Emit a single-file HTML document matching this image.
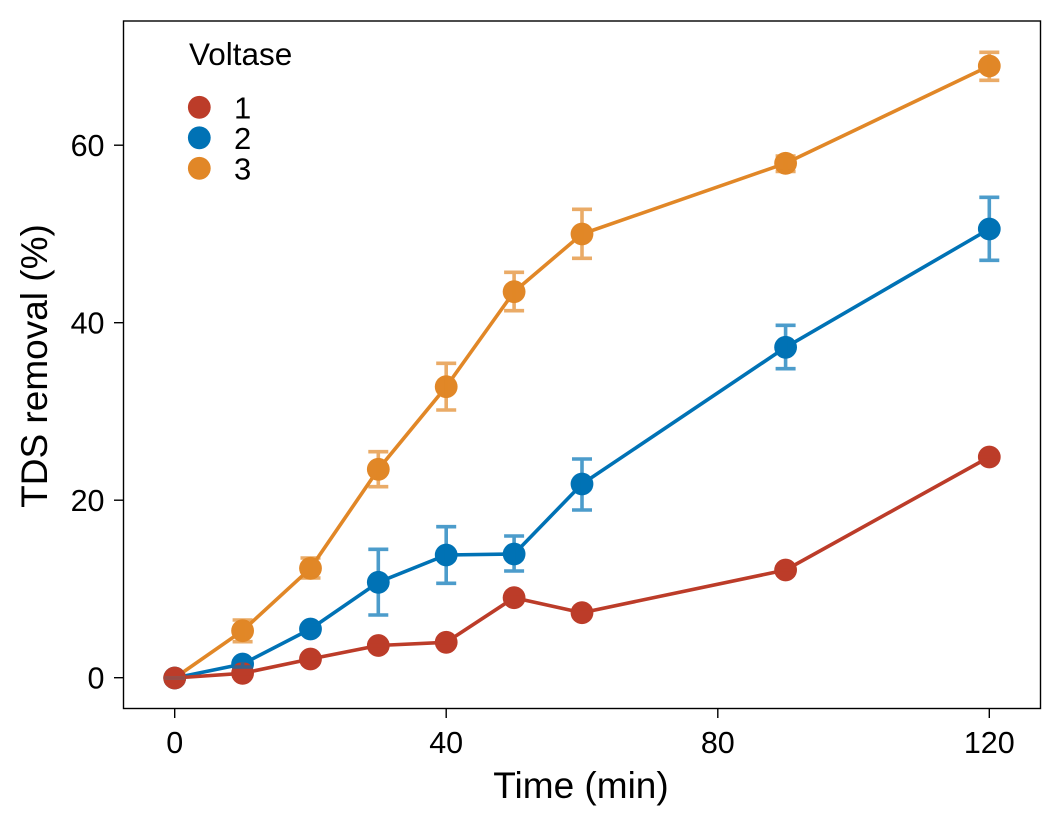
<!DOCTYPE html>
<html><head><meta charset="utf-8"><style>
html,body{margin:0;padding:0;background:#fff;}
svg{display:block;}
text{font-family:"Liberation Sans",Arial,sans-serif;fill:#000;}
</style></head><body>
<svg width="1062" height="826" viewBox="0 0 1062 826" xmlns="http://www.w3.org/2000/svg">
<rect x="0" y="0" width="1062" height="826" fill="#fff"/>

<!-- series lines -->
<g fill="none" stroke-width="3.6" stroke-linejoin="round" stroke-linecap="butt">
<polyline stroke="#E18727" points="174.7,678 242.6,630.7 310.5,568.3 378.3,469.3 446.2,386.7 514.1,291.7 582,234 785.6,163.3 989.3,66"/>
<polyline stroke="#0072B5" points="174.7,678 242.6,664 310.5,629 378.3,582.3 446.2,555 514.1,554 582,484 785.6,347.3 989.3,229"/>
<polyline stroke="#BC3C29" points="174.7,678 242.6,673.3 310.5,659 378.3,645.5 446.2,642.3 514.1,597.7 582,612.7 785.6,570 989.3,457"/>
</g>

<!-- points -->
<g fill="#E18727">
<circle cx="174.7" cy="678" r="11.4"/><circle cx="242.6" cy="630.7" r="11.4"/><circle cx="310.5" cy="568.3" r="11.4"/><circle cx="378.3" cy="469.3" r="11.4"/><circle cx="446.2" cy="386.7" r="11.4"/><circle cx="514.1" cy="291.7" r="11.4"/><circle cx="582" cy="234" r="11.4"/><circle cx="785.6" cy="163.3" r="11.4"/><circle cx="989.3" cy="66" r="11.4"/>
</g>
<g fill="#0072B5">
<circle cx="174.7" cy="678" r="11.4"/><circle cx="242.6" cy="664" r="11.4"/><circle cx="310.5" cy="629" r="11.4"/><circle cx="378.3" cy="582.3" r="11.4"/><circle cx="446.2" cy="555" r="11.4"/><circle cx="514.1" cy="554" r="11.4"/><circle cx="582" cy="484" r="11.4"/><circle cx="785.6" cy="347.3" r="11.4"/><circle cx="989.3" cy="229" r="11.4"/>
</g>
<g fill="#BC3C29">
<circle cx="174.7" cy="678" r="11.4"/><circle cx="242.6" cy="673.3" r="11.4"/><circle cx="310.5" cy="659" r="11.4"/><circle cx="378.3" cy="645.5" r="11.4"/><circle cx="446.2" cy="642.3" r="11.4"/><circle cx="514.1" cy="597.7" r="11.4"/><circle cx="582" cy="612.7" r="11.4"/><circle cx="785.6" cy="570" r="11.4"/><circle cx="989.3" cy="457" r="11.4"/>
</g>

<!-- error bars -->
<g fill="none" stroke-width="3.6" stroke="#E18727" stroke-opacity="0.7">
<path d="M164.7,678H184.7"/>
<path d="M242.6,620V641.7M232.6,620H252.6M232.6,641.7H252.6"/>
<path d="M310.5,558V578M300.5,558H320.5M300.5,578H320.5"/>
<path d="M378.3,451.7V486.7M368.3,451.7H388.3M368.3,486.7H388.3"/>
<path d="M446.2,363.3V410M436.2,363.3H456.2M436.2,410H456.2"/>
<path d="M514.1,272.3V310.7M504.1,272.3H524.1M504.1,310.7H524.1"/>
<path d="M582,209.3V258.3M572,209.3H592M572,258.3H592"/>
<path d="M785.6,156V171.5M775.6,156H795.6M775.6,171.5H795.6"/>
<path d="M989.3,52.3V80.3M979.3,52.3H999.3M979.3,80.3H999.3"/>
</g>
<g fill="none" stroke-width="3.6" stroke="#0072B5" stroke-opacity="0.7">
<path d="M164.7,678H184.7"/>
<path d="M242.6,661V667M232.6,661H252.6M232.6,667H252.6"/>
<path d="M310.5,625V633M300.5,625H320.5M300.5,633H320.5"/>
<path d="M378.3,549.3V615M368.3,549.3H388.3M368.3,615H388.3"/>
<path d="M446.2,526.7V583.3M436.2,526.7H456.2M436.2,583.3H456.2"/>
<path d="M514.1,536V571M504.1,536H524.1M504.1,571H524.1"/>
<path d="M582,459V510M572,459H592M572,510H592"/>
<path d="M785.6,325.3V368.7M775.6,325.3H795.6M775.6,368.7H795.6"/>
<path d="M989.3,197.3V260.3M979.3,197.3H999.3M979.3,260.3H999.3"/>
</g>
<g fill="none" stroke-width="3.6" stroke="#BC3C29" stroke-opacity="0.7">
<path d="M164.7,678H184.7"/>
<path d="M232.6,673.3H252.6"/>
<path d="M300.5,659H320.5"/>
<path d="M368.3,645.5H388.3"/>
<path d="M436.2,642.3H456.2"/>
<path d="M504.1,597.7H524.1"/>
<path d="M572,612.7H592"/>
<path d="M775.6,570H795.6"/>
<path d="M979.3,457H999.3"/>
</g>

<!-- panel border -->
<rect x="123.5" y="21" width="917" height="687.5" fill="none" stroke="#000" stroke-width="1.4"/>

<!-- ticks -->
<g stroke="#000" stroke-width="1.4">
<line x1="114" y1="677.7" x2="123.5" y2="677.7"/>
<line x1="114" y1="500.2" x2="123.5" y2="500.2"/>
<line x1="114" y1="322.7" x2="123.5" y2="322.7"/>
<line x1="114" y1="145.2" x2="123.5" y2="145.2"/>
<line x1="174.7" y1="708.5" x2="174.7" y2="718"/>
<line x1="446.2" y1="708.5" x2="446.2" y2="718"/>
<line x1="717.8" y1="708.5" x2="717.8" y2="718"/>
<line x1="989.3" y1="708.5" x2="989.3" y2="718"/>
</g>
<g font-size="30.5" text-anchor="end">
<text x="104.5" y="688.5">0</text>
<text x="104.5" y="511">20</text>
<text x="104.5" y="333.5">40</text>
<text x="104.5" y="156">60</text>
</g>
<g font-size="30.5" text-anchor="middle">
<text x="174.7" y="753">0</text>
<text x="446.2" y="753">40</text>
<text x="717.8" y="753">80</text>
<text x="989.3" y="753">120</text>
</g>

<!-- axis titles -->
<text x="581" y="798" font-size="37" text-anchor="middle">Time (min)</text>
<text transform="translate(47,366) rotate(-90)" font-size="37" text-anchor="middle">TDS removal (%)</text>

<!-- legend -->
<text x="189" y="65" font-size="31.5">Voltase</text>
<circle cx="199.3" cy="107.3" r="11.4" fill="#BC3C29"/>
<circle cx="199.3" cy="137.8" r="11.4" fill="#0072B5"/>
<circle cx="199.3" cy="168.3" r="11.4" fill="#E18727"/>
<g font-size="31">
<text x="234" y="118.3">1</text>
<text x="234" y="148.8">2</text>
<text x="234" y="179.3">3</text>
</g>
</svg>
</body></html>
